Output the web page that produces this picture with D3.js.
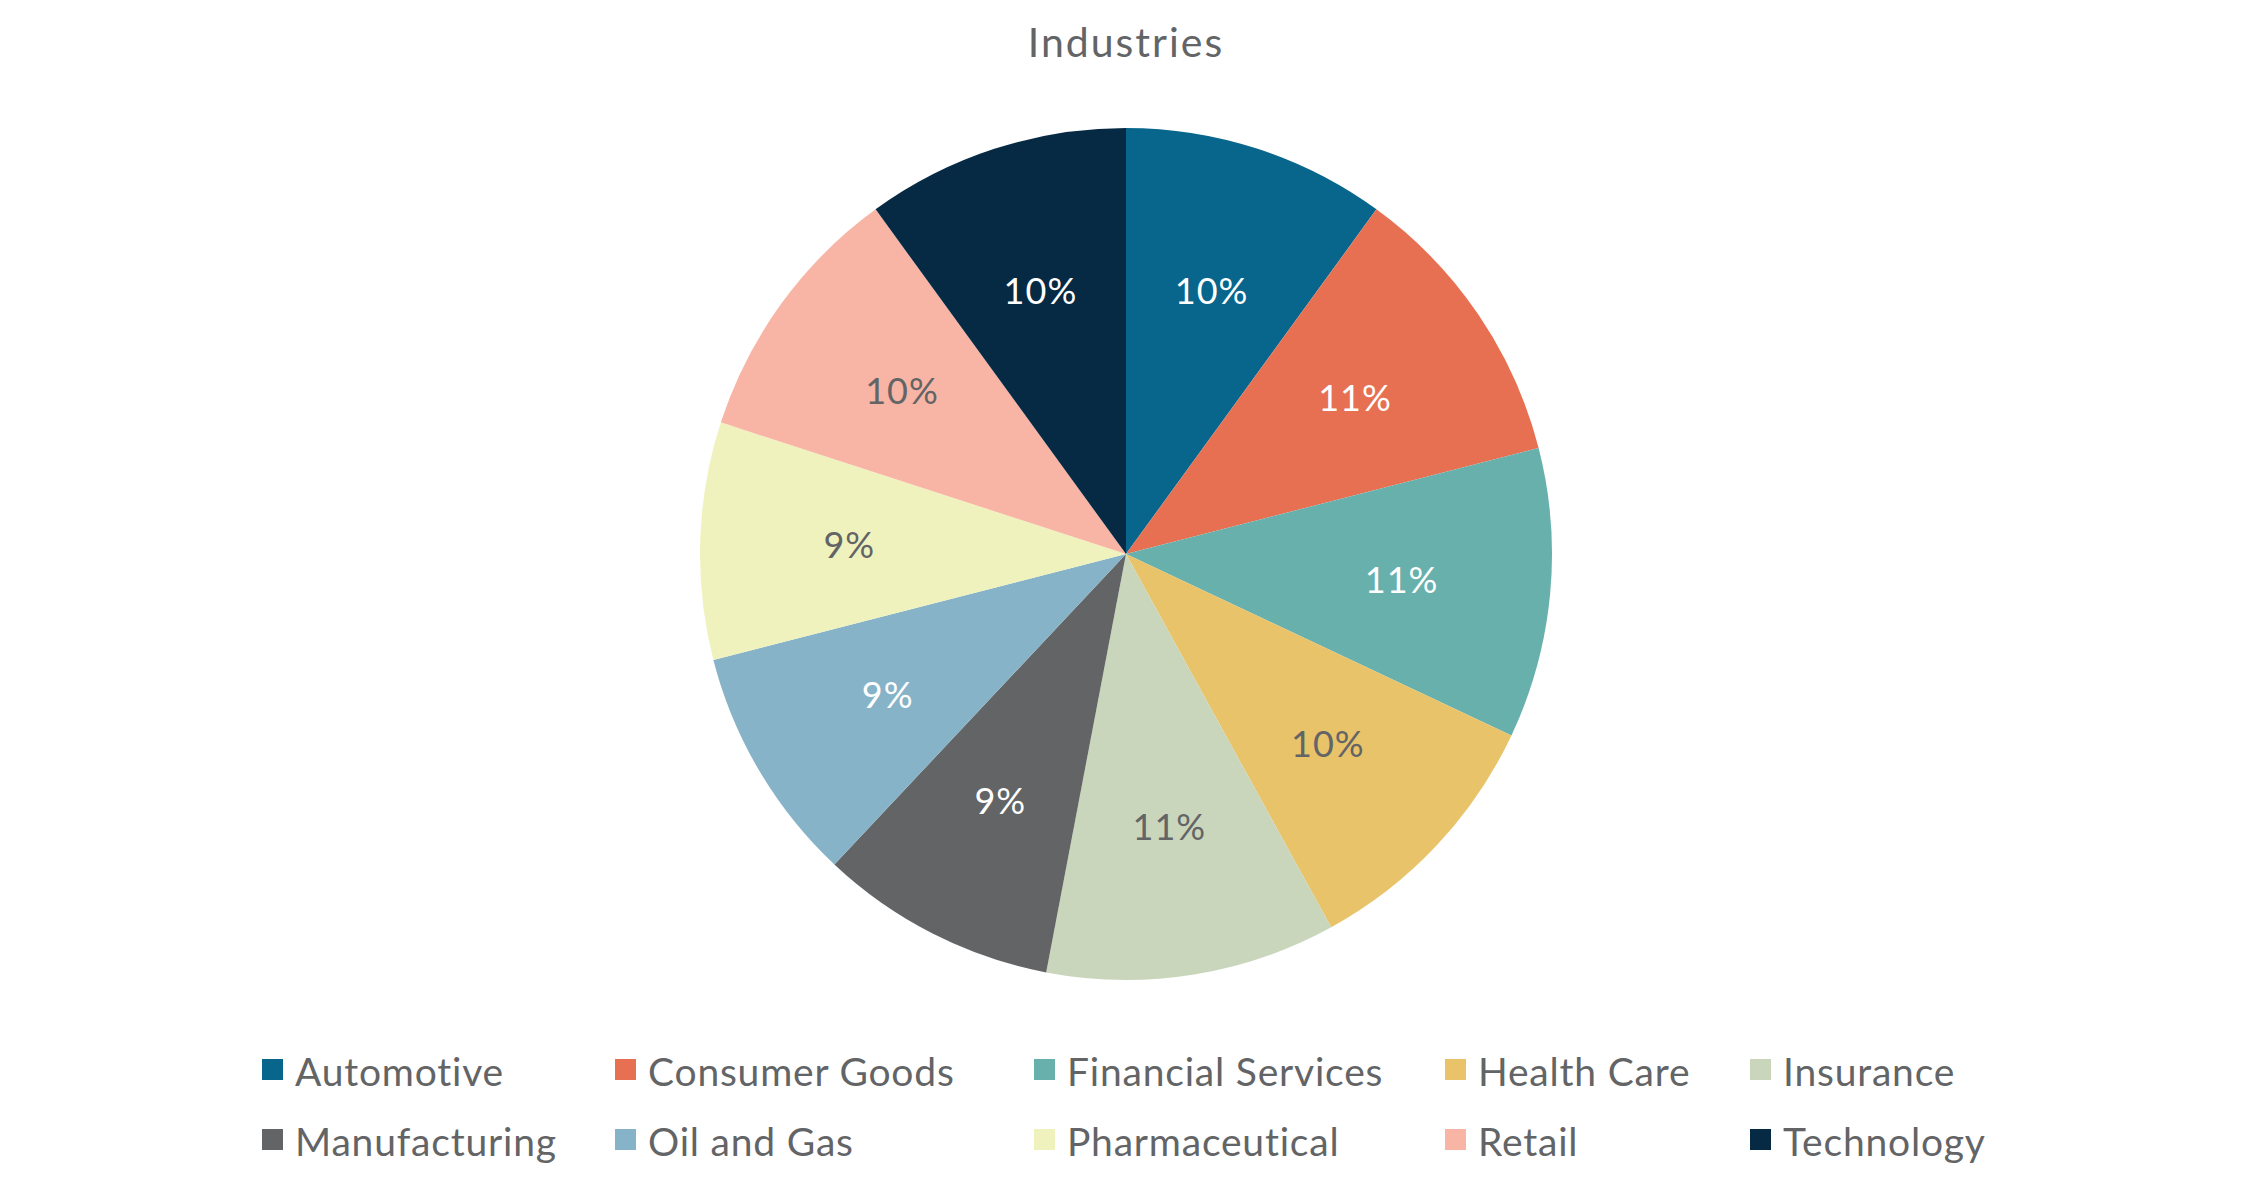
<!DOCTYPE html>
<html>
<head>
<meta charset="utf-8">
<script src="https://cdn.jsdelivr.net/npm/d3@7"></script>
<style>
  body { margin: 0; background: #fff; }
  text { font-family: Lato, "Open Sans", sans-serif; }
</style>
</head>
<body>
<div id="chart"></div>
<script>
// data
const categories = ["Automotive", "Consumer Goods", "Financial Services", "Health Care", "Insurance",
                    "Manufacturing", "Oil and Gas", "Pharmaceutical", "Retail", "Technology"];
const shares = [10, 11, 11, 10, 11, 9, 9, 9, 10, 10];
const colors = ["#08668c", "#e87052", "#68b0ab", "#e8c36a", "#c9d6bb",
                "#636466", "#86b3c7", "#f0f2be", "#f8b4a4", "#062944"];
const labelColors = ["#fff", "#fff", "#fff", "#636466", "#636466",
                     "#fff", "#fff", "#636466", "#636466", "#fff"];

const width = 2251, height = 1203;
const cx = 1126, cy = 554, radius = 426;
const textGray = "#636466";

const svg = d3.select("#chart").append("svg")
    .attr("width", width)
    .attr("height", height);

// title
svg.append("text")
    .attr("x", cx)
    .attr("y", 57)
    .attr("text-anchor", "middle")
    .attr("font-size", "41px")
    .attr("letter-spacing", "2px")
    .attr("fill", textGray)
    .text("Industries");

const rows = categories.map((c, i) => ({ name: c, value: shares[i], color: colors[i], label: labelColors[i] }));

const pie = d3.pie().value(d => d.value).sort(null);
const arc = d3.arc().innerRadius(0).outerRadius(radius);
const labelArc = d3.arc().innerRadius(radius * 0.65).outerRadius(radius * 0.65);

const g = svg.append("g")
    .attr("transform", `translate(${cx},${cy})`);

const slices = g.selectAll(".slice")
    .data(pie(rows))
    .enter().append("g")
    .attr("class", "slice");

slices.append("path")
    .attr("d", arc)
    .attr("fill", d => d.data.color);

const total = d3.sum(shares);
slices.append("text")
    .attr("transform", d => `translate(${labelArc.centroid(d)})`)
    .attr("dy", "0.36em")
    .attr("text-anchor", "middle")
    .attr("font-size", "36px")
    .attr("letter-spacing", "1px")
    .attr("fill", d => d.data.label)
    .text(d => d3.format(".0%")(d.data.value / total));

// legend: 5 columns, 2 rows
const legendCols = [262, 615, 1034, 1445, 1750];
const legendRows = [1059, 1129];
const swatch = 21;

const legend = svg.append("g").attr("class", "legend");
const items = legend.selectAll(".item")
    .data(rows)
    .enter().append("g")
    .attr("class", "item")
    .attr("transform", (d, i) => `translate(${legendCols[i % 5]},${legendRows[Math.floor(i / 5)]})`);

items.append("rect")
    .attr("width", swatch)
    .attr("height", swatch)
    .attr("fill", d => d.color);

items.append("text")
    .attr("x", 33)
    .attr("y", 27)
    .attr("font-size", "39px")
    .attr("letter-spacing", "0.8px")
    .attr("fill", textGray)
    .text(d => d.name);
</script>
</body>
</html>
